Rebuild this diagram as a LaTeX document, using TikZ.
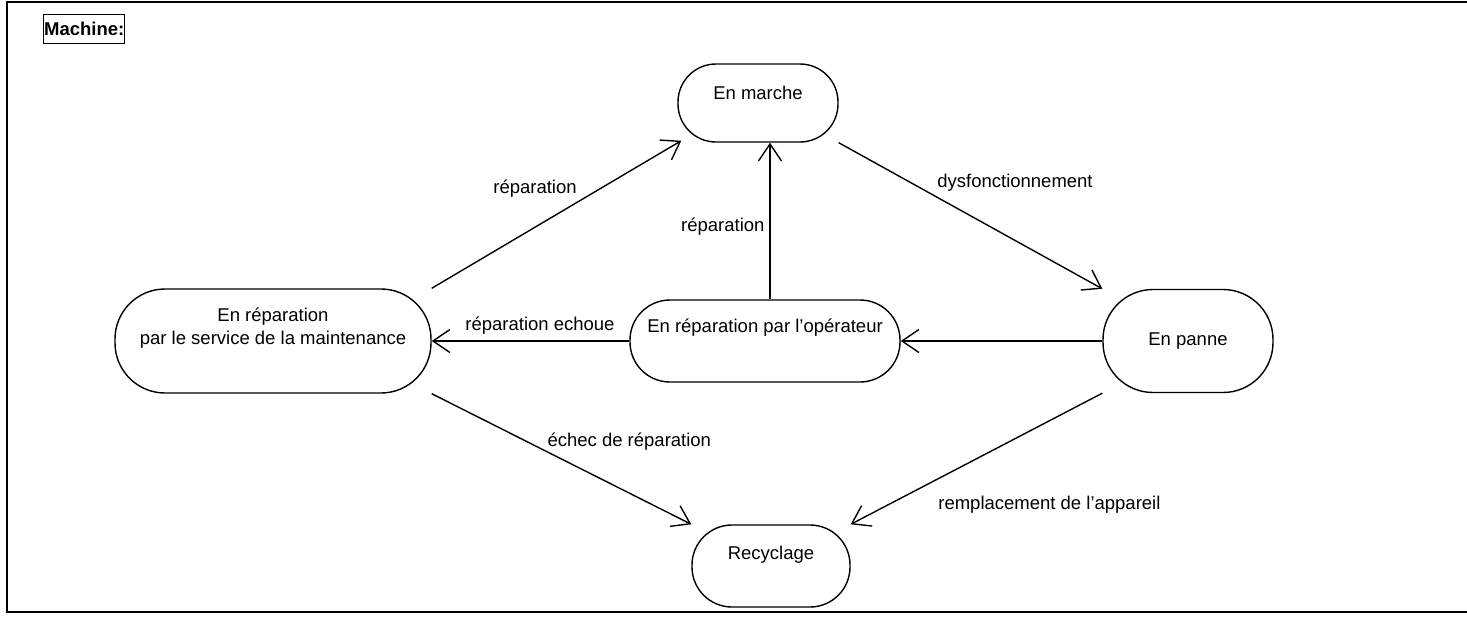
\documentclass[tikz,border=0pt]{standalone}
\usepackage{fontspec}
\setmainfont{Liberation Sans}
\usetikzlibrary{arrows.meta,calc}
\begin{document}
\begin{tikzpicture}[x=1pt,y=-1pt,
  txt/.style={font=\fontsize{18.5}{23.5}\selectfont, align=center},
  state/.style={draw, line width=1.4pt, rounded corners=#1, inner sep=0pt},
  state/.default=36pt,
  tr/.style={draw, line width=1.4pt, -{Straight Barb[length=17pt,width=23pt]}}]
  \useasboundingbox (0,0) rectangle (1467,616);

  % outer frame (open on the right)
  \coordinate (ftr) at (1467,2);
  \coordinate (ftl) at (7,2);
  \coordinate (fbl) at (7,612);
  \coordinate (fbr) at (1467,612);
  \draw[line width=2pt] (ftr) -- (ftl) -- (fbl) -- (fbr);

  % diagram title
  \node[draw, line width=1pt, anchor=north west, inner sep=0.6pt,
        minimum height=29pt, font=\fontsize{18.5}{22}\selectfont\bfseries]
        (title) at (43,14) {Machine:};

  % states
  \node[state=38pt, minimum width=160pt, minimum height=78pt,
        label={[txt,yshift=10pt]center:En marche}] (marche) at (758,103) {};
  \node[state=50pt, minimum width=316pt, minimum height=104pt,
        label={[txt,yshift=13pt]center:En réparation\\par le service de la maintenance}]
        (maint) at (273,341) {};
  \node[state=40pt, minimum width=270pt, minimum height=82pt,
        label={[txt,yshift=13pt]center:En réparation par l'opérateur}] (oper) at (765,341) {};
  \node[state=50pt, minimum width=170pt, minimum height=103pt,
        label={[txt]center:En panne}] (panne) at (1188,341) {};
  \node[state=40pt, minimum width=158pt, minimum height=82pt,
        label={[txt,yshift=11pt]center:Recyclage}] (recycl) at (771,566) {};

  % transitions
  \draw[tr] (maint.north east) -- ([xshift=4pt,yshift=2pt]marche.south west);
  \draw[tr] (marche.south east) -- (panne.north west);
  \draw[tr] ([xshift=5pt]oper.north) -- ([xshift=5pt]oper.north |- marche.south);
  \draw[tr] (panne.west) -- (oper.east);
  \draw[tr] (oper.west) -- (maint.east);
  \draw[tr] (maint.south east) -- (recycl.north west);
  \draw[tr] (panne.south west) -- (recycl.north east);

  % transition labels
  \node[txt] (l1) at (535,189) {réparation};
  \node[txt, anchor=east] (l2) at (768,227) {réparation};
  \node[txt] (l3) at (1015,183) {dysfonctionnement};
  \node[txt] (l4) at (540,326) {réparation echoue};
  \node[txt, anchor=west] (l5) at (544,442) {échec de réparation};
  \node[txt, anchor=east] (l6) at (1164,505) {remplacement de l'appareil};
\end{tikzpicture}
\end{document}
